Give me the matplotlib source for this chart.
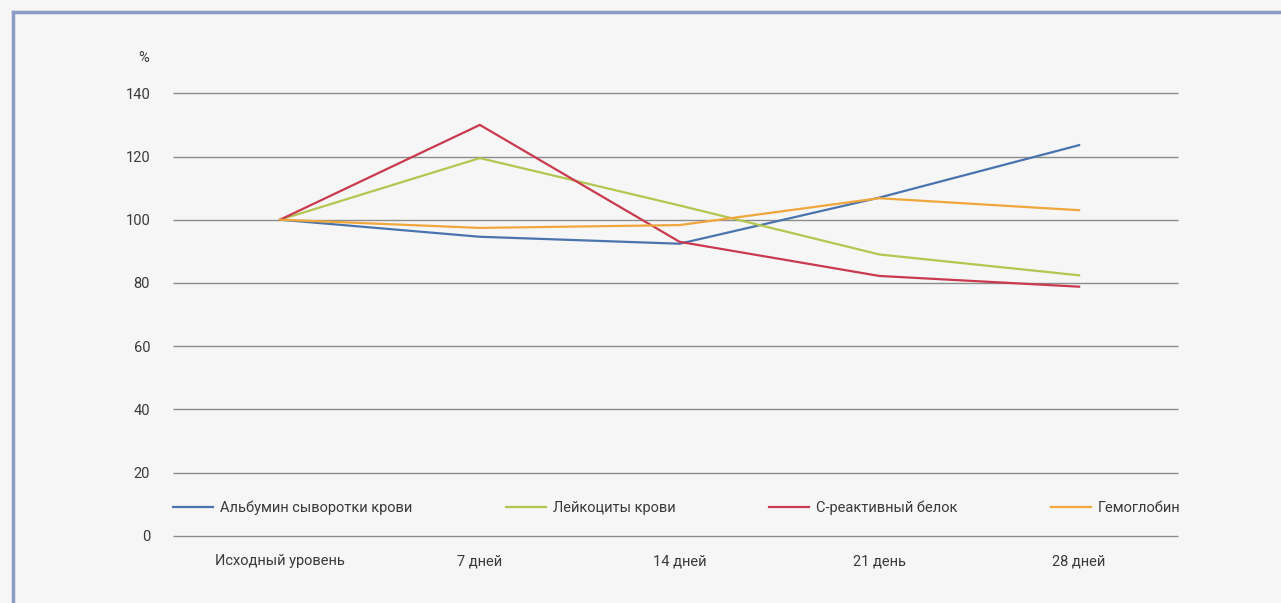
import matplotlib
matplotlib.use("Agg")
import matplotlib.pyplot as plt
from matplotlib.lines import Line2D
from matplotlib import font_manager

# Data: percentage of baseline level per time point
categories = ["Исходный уровень", "7 дней", "14 дней", "21 день", "28 дней"]
albumin = [100, 94.6, 92.4, 107, 123.6]
leukocytes = [100, 119.5, 104.5, 89, 82.4]
crp = [100, 130, 93, 82.2, 78.8]
hemoglobin = [100, 97.4, 98.3, 106.8, 103]
series_names = ["Альбумин сыворотки крови", "Лейкоциты крови",
                "С-реактивный белок", "Гемоглобин"]
y_ticks = [0, 20, 40, 60, 80, 100, 120, 140]

colors = ["#4a74ad", "#b3c650", "#c93a4f", "#f0a63a"]

installed = {f.name for f in font_manager.fontManager.ttflist}
family = [f for f in ["Liberation Sans Narrow", "Roboto", "DejaVu Sans"] if f in installed]
plt.rcParams["font.family"] = family
text_color = "#3a3a3a"
fs = 10.5

W, H = 1281, 603
fig = plt.figure(figsize=(W / 100, H / 100), dpi=100, facecolor="#f6f6f6")

left_px, right_px = 173, 1178
top_px, bottom_px = 93.3, 535.7
ax = fig.add_axes([left_px / W, 1 - bottom_px / H,
                   (right_px - left_px) / W, (bottom_px - top_px) / H])
ax.set_facecolor("none")

x = list(range(len(categories)))
xmin, xmax = -0.536, 4.495

# horizontal value gridlines, including the baseline at 0
ax.hlines(y_ticks, xmin, xmax, color="#8c8c8c", lw=1.0, clip_on=False, zorder=1)

for vals, name, c in zip([albumin, leukocytes, crp, hemoglobin], series_names, colors):
    ax.plot(x, vals, color=c, lw=1.6, label=name, solid_joinstyle="miter", zorder=3)

ax.set_ylim(0, 140)
ax.set_xlim(xmin, xmax)
ax.set_yticks(y_ticks)
ax.set_yticklabels([str(v) for v in y_ticks])
ax.set_xticks(x)
ax.set_xticklabels(categories)
ax.tick_params(axis="both", length=0, labelsize=fs, colors=text_color)
ax.tick_params(axis="y", pad=16.5)
ax.tick_params(axis="x", pad=13.5)
for s in ax.spines.values():
    s.set_visible(False)

# unit label above the value axis
fig.text(149 / W, 1 - 58 / H, "%", ha="right", va="center",
         fontsize=fs, color=text_color)

leg = ax.legend(loc="center left", bbox_to_anchor=(0.0, 8.8 / 140), ncol=4,
                frameon=False, fontsize=fs, handlelength=2.75,
                handletextpad=0.48, columnspacing=6.4, borderpad=0,
                borderaxespad=0)
for t in leg.get_texts():
    t.set_color(text_color)

# page frame lines along the left and top edges
fig.add_artist(Line2D([13 / W, 13 / W], [0, 1 - 12 / H], color="#8d9bc6",
                      lw=2.5, transform=fig.transFigure))
fig.add_artist(Line2D([13 / W, 1], [1 - 12 / H, 1 - 12 / H], color="#8d9bc6",
                      lw=2.5, transform=fig.transFigure))

fig.savefig("out.png", dpi=100, facecolor=fig.get_facecolor())
